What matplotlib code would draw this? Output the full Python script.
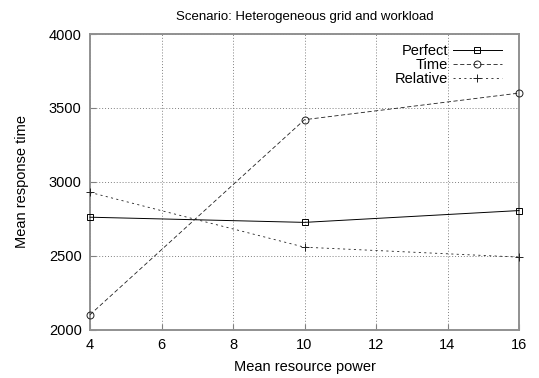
"""
Mean response time vs. mean resource power, gnuplot-like style.
"""
import matplotlib
matplotlib.use('Agg')
import matplotlib.pyplot as plt

# data
power = [4, 10, 16]
perfect = [2760, 2725, 2805]
time_based = [2100, 3420, 3600]
relative = [2928, 2557, 2490]

x_ticks = [4, 6, 8, 10, 12, 14, 16]
y_ticks = [2000, 2500, 3000, 3500, 4000]

plt.rcParams['font.family'] = ['Liberation Sans', 'DejaVu Sans']

fig = plt.figure(figsize=(5.39, 3.78), dpi=100)
ax = fig.add_axes([90 / 539, 1 - 329.5 / 378, 429 / 539, 295.5 / 378])

ax.plot(power, perfect, color='black', linewidth=0.7, linestyle='-',
        marker='s', markersize=5, markerfacecolor='none', markeredgewidth=0.7,
        label='Perfect', clip_on=False, zorder=3)
ax.plot(power, time_based, color='#202020', linewidth=0.6, linestyle=(0, (5, 3)),
        marker='o', markersize=5, markerfacecolor='none', markeredgewidth=0.7,
        label='Time', clip_on=False, zorder=3)
ax.plot(power, relative, color='#202020', linewidth=0.6, linestyle=(0, (2.5, 4)),
        marker='+', markersize=6, markeredgewidth=0.7,
        label='Relative', clip_on=False, zorder=3)

ax.set_xlim(4, 16)
ax.set_ylim(2000, 4000)
ax.set_xticks(x_ticks)
ax.set_yticks(y_ticks)
ax.tick_params(direction='in', length=4, color='#808080', labelsize=10.5, pad=6)
ax.grid(True, color='#808080', linestyle=(0, (1, 2)), linewidth=0.7)

for spine in ax.spines.values():
    spine.set_color('#909090')
    spine.set_linewidth(1.4)

ax.set_xlabel('Mean resource power', fontsize=10.5, labelpad=6)
ax.set_ylabel('Mean response time', fontsize=10.5, labelpad=14)
ax.set_title('Scenario: Heterogeneous grid and workload', fontsize=9.5, pad=10)

leg = ax.legend(loc='upper right', bbox_to_anchor=(1 - 7 / 429, 1.0),
                markerfirst=False, handlelength=3.35,
                fontsize=10.5, labelspacing=0.0, handletextpad=0.35,
                borderaxespad=0.3, frameon=False)

plt.savefig('out.png', dpi=100)
plt.close()
